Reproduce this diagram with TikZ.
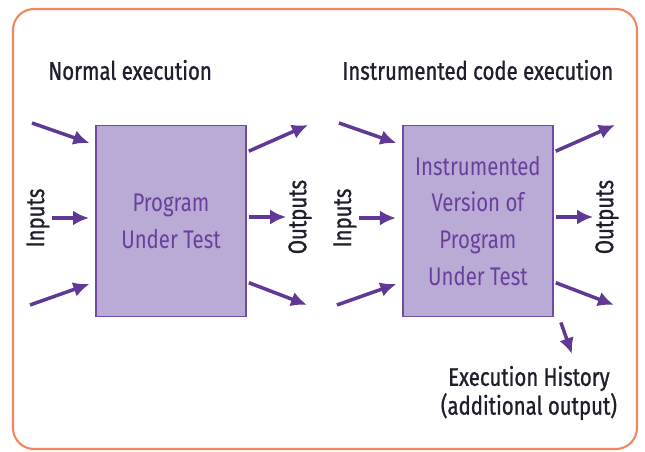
\documentclass[tikz,border=0pt]{standalone}
\usepackage{fontspec}
\setmainfont[FakeStretch=0.8, FakeBold=1]{Fira Sans}
\newfontfamily\cajafont[FakeStretch=0.8]{Fira Sans}
\usetikzlibrary{positioning}
\usetikzlibrary{arrows.meta}
\usetikzlibrary{calc}
\definecolor{figLila}{RGB}{186,170,214}
\definecolor{figLilaBorde}{RGB}{112,76,160}
\definecolor{figFlecha}{RGB}{96,56,150}
\definecolor{figMarco}{RGB}{242,135,95}
\definecolor{figTexto}{RGB}{104,64,156}
\definecolor{figNegro}{RGB}{30,30,45}
\tikzset{
  programa/.style={
    rectangle, draw=figLilaBorde, line width=1.1pt, fill=figLila,
    minimum width=3.0cm, minimum height=3.82cm, align=center,
    text=figTexto, font=\cajafont\fontsize{14.5}{21}\selectfont, inner sep=2pt
  },
  titulo/.style={font=\fontsize{14.5}{16}\selectfont, text=figNegro, anchor=west, inner sep=0pt},
  etiqueta/.style={font=\fontsize{14.5}{16}\selectfont, text=figNegro, rotate=90, inner sep=1pt},
  nota/.style={font=\fontsize{14.5}{16.4}\selectfont, text=figNegro, align=center, inner sep=0pt},
  flecha/.style={-{Latex[length=0.32cm, width=0.3cm]}, line width=2pt, draw=figFlecha},
  marco/.style={rounded corners=0.42cm, draw=figMarco, line width=1.2pt}
}

\begin{document}
\begin{tikzpicture}
  \useasboundingbox (0,0) rectangle (12.9,9.04);
  \draw[marco] (0.26,0.06) rectangle (12.74,8.86);

  \node[programa] (prog) at (3.42,4.62) {Program\\Under Test};
  \node[programa, right=3.1cm of prog] (inst)
    {Instrumented\\Version of\\Program\\Under Test};

  \node[titulo] (normal) at (0.96,7.64) {Normal execution};
  \node[titulo] (instrum) at (6.84,7.64) {Instrumented code execution};

  % entradas y salidas de cada programa
  \foreach \b in {prog,inst}{
    \node[etiqueta] (\b-in) at ($(\b)+(-2.66,0.06)$) {Inputs};
    \node[etiqueta] (\b-out) at ($(\b)+(2.58,0.08)$) {Outputs};
    \coordinate (\b-in1) at ($(\b)+(-2.78,1.96)$);
    \coordinate (\b-in3) at ($(\b)+(-2.82,-1.68)$);
    \coordinate (\b-out1) at ($(\b)+(2.74,1.92)$);
    \coordinate (\b-out3) at ($(\b)+(2.72,-1.68)$);

    \draw[flecha, shorten >=0.12cm] (\b-in1) -- ([yshift=1.52cm]\b.west);
    \draw[flecha, shorten >=0.12cm] (\b-in) -- (\b-in -| \b.west);
    \draw[flecha, shorten >=0.12cm] (\b-in3) -- ([yshift=-1.22cm]\b.west);
    \draw[flecha, shorten <=0.04cm] ([yshift=1.38cm]\b.east) -- (\b-out1);
    \draw[flecha, shorten <=0.04cm] (\b-out -| \b.east) -- (\b-out);
    \draw[flecha, shorten <=0.04cm] ([yshift=-1.22cm]\b.east) -- (\b-out3);
  }

  \coordinate (hist-a) at ($(inst.south east)+(0.14,-0.1)$);
  \coordinate (hist-b) at ($(inst)+(1.88,-2.66)$);
  \draw[flecha] (hist-a) -- (hist-b);
  \node[nota] (hist) at ($(inst)+(1.02,-3.44)$)
    {Execution History\\(additional output)};
\end{tikzpicture}
\end{document}
